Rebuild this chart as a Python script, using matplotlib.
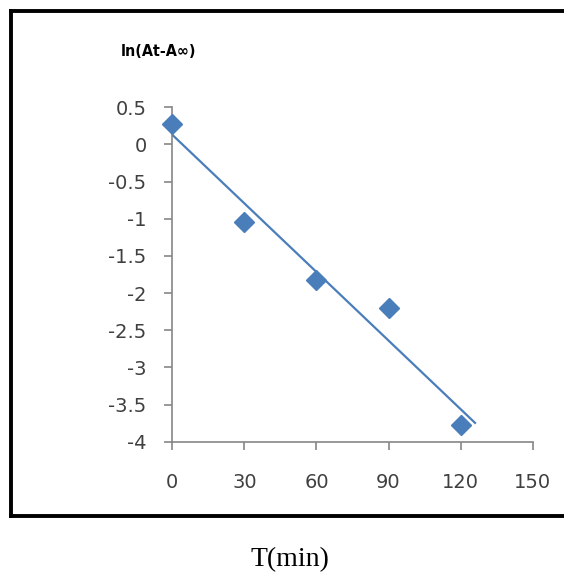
import matplotlib.pyplot as plt
from matplotlib.lines import Line2D
import numpy as np

# reaction time (min) and ln(At - A_inf)
time_min = [0, 30, 60, 90, 120]
ln_abs = [0.27, -1.05, -1.83, -2.20, -3.77]
x_ticks = [0, 30, 60, 90, 120, 150]
y_ticks = [0.5, 0, -0.5, -1, -1.5, -2, -2.5, -3, -3.5, -4]
trend_end = 126

blue = '#4a7ebb'
grey = '#868686'

fig = plt.figure(figsize=(5.64, 5.75), dpi=100)
fig.patch.set_facecolor('white')
ax = fig.add_axes([0.3055, 0.2318, 0.639, 0.5816])

# least squares trendline, extended a little past the last point
slope, icept = np.polyfit(time_min, ln_abs, 1)
tx = np.array([0, trend_end])
ax.plot(tx, slope * tx + icept, color=blue, lw=1.6, zorder=2)
ax.plot(time_min, ln_abs, linestyle='none', marker='D', markersize=10,
        color=blue, markeredgecolor=blue, zorder=3, clip_on=False)

ax.set_xlim(0, 150)
ax.set_ylim(-4, 0.5)
ax.set_xticks(x_ticks)
ax.set_yticks(y_ticks)
ax.set_yticklabels([f'{v:g}' for v in y_ticks])
for s in ['top', 'right']:
    ax.spines[s].set_visible(False)
for s in ['left', 'bottom']:
    ax.spines[s].set_color(grey)
    ax.spines[s].set_linewidth(1.2)
ax.tick_params(axis='both', direction='out', length=5.5, width=1.2, color=grey,
               labelsize=14, labelcolor='#404040')
ax.tick_params(axis='x', pad=17)
ax.tick_params(axis='y', pad=13)

# condensed bold axis title above the y axis
ylab = fig.text(158 / 564, 1 - 52 / 575, 'ln(At-A\u221e)', ha='center', va='center',
                fontsize=11.5, fontweight='bold', family='DejaVu Sans')
ylab.set_fontstretch('condensed')

fig.text(290 / 564, 1 - 560 / 575, 'T(min)', ha='center', va='center',
         fontsize=20, family=['Liberation Serif', 'DejaVu Serif'])

# frame around the chart area (open on the right)
bw = 2.8
fig.add_artist(Line2D([10.5 / 564, 10.5 / 564], [1 - 10.5 / 575, 1 - 516 / 575],
                      color='black', lw=bw, transform=fig.transFigure))
fig.add_artist(Line2D([10.5 / 564, 1.0], [1 - 10.5 / 575, 1 - 10.5 / 575],
                      color='black', lw=bw, transform=fig.transFigure))
fig.add_artist(Line2D([10.5 / 564, 1.0], [1 - 516 / 575, 1 - 516 / 575],
                      color='black', lw=bw, transform=fig.transFigure))

fig.savefig('out.png', dpi=100, facecolor='white')
